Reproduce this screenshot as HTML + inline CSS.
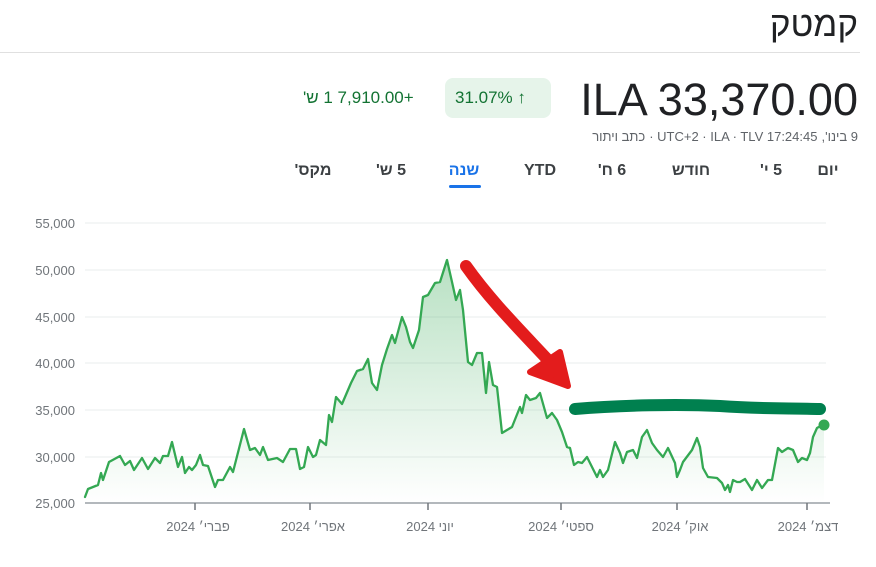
<!DOCTYPE html>
<html><head><meta charset="utf-8"><style>
body{margin:0;width:876px;height:567px;background:#fff;overflow:hidden;font-family:"Liberation Sans",Arial,sans-serif;position:relative}
.a{position:absolute;white-space:nowrap}
.tab{position:absolute;top:162px;font-size:16px;color:#3c4043;font-weight:bold;transform:translateX(-50%)}
</style></head><body>
<div class="a" style="right:18px;top:5px;font-size:35px;color:#202124">קמטק</div>
<div class="a" style="left:0;top:52px;width:860px;height:1px;background:#e0e0e0"></div>
<div class="a" style="right:18px;top:74px;font-size:45px;color:#202124">ILA 33,370.00</div>
<div class="a" style="left:445px;top:78px;width:106px;height:40px;background:#e6f4ea;border-radius:8px"></div>
<div class="a" style="left:455px;top:88px;font-size:17px;color:#137333">31.07% ↑</div>
<div class="a" style="left:303px;top:88px;font-size:17px;color:#137333"><bdo dir="ltr">'ש 1 7,910.00+</bdo></div>
<div class="a" style="right:18px;top:129px;font-size:13px;color:#5f6368;display:flex;gap:4px">
<span>כתב ויתור</span><span>· UTC+2 · ILA · TLV 17:24:45</span><span dir="rtl">9 בינו',</span></div>
<div class="tab" dir="rtl" style="left:828px">יום</div>
<div class="tab" dir="rtl" style="left:771px">5 י'</div>
<div class="tab" dir="rtl" style="left:691px">חודש</div>
<div class="tab" dir="rtl" style="left:612px">6 ח'</div>
<div class="tab" style="left:540px">YTD</div>
<div class="tab" dir="rtl" style="left:464px;color:#1a73e8">שנה</div>
<div class="tab" dir="rtl" style="left:391px">5 ש'</div>
<div class="tab" dir="rtl" style="left:313px">מקס'</div>
<div class="a" style="left:449px;top:185px;width:32px;height:3px;background:#1a73e8;border-radius:2px"></div>
<svg class="a" style="left:0;top:0" width="876" height="567">
<defs><linearGradient id="g" x1="0" y1="0" x2="0" y2="1"><stop offset="0" stop-color="#34a853" stop-opacity=".35"/><stop offset="1" stop-color="#34a853" stop-opacity="0"/></linearGradient></defs>
<g stroke="#f1f3f4" stroke-width="1.5">
<line x1="85" x2="826" y1="223" y2="223"/><line x1="85" x2="826" y1="270" y2="270"/><line x1="85" x2="826" y1="317" y2="317"/><line x1="85" x2="826" y1="363" y2="363"/><line x1="85" x2="826" y1="410" y2="410"/><line x1="85" x2="826" y1="457" y2="457"/></g>
<g font-size="13" fill="#70757a" text-anchor="end">
<text x="75" y="228">55,000</text><text x="75" y="275">50,000</text><text x="75" y="322">45,000</text><text x="75" y="368">40,000</text><text x="75" y="415">35,000</text><text x="75" y="462">30,000</text><text x="75" y="508">25,000</text></g>
<polygon fill="url(#g)" points="85,497 88,489 98,485 101,473 103,480 109,462 120,456 125,465 130,461 134,470 142,458 148,469 155,458 160,463 163,456 168,456 172,442 178,467 182,457 185,473 189,467 192,470 196,465 200,455 203,465 208,466 215,487 218,480 223,480 230,467 233,472 244,429 250,450 255,448 260,455 263,447 268,460 277,458 283,462 290,449 296,449 300,469 304,467 308,447 313,457 316,455 320,440 326,445 329,415 332,422 336,397 342,404 351,383 357,371 363,369 368,359 372,383 377,390 382,365 387,349 392,335 395,343 402,317 406,327 410,342 413,348 419,330 423,297 428,295 435,283 440,282 447,260 452,282 456,300 460,290 463,310 468,362 472,365 477,353 482,353 486,393 489,362 493,385 497,387 502,433 507,430 512,427 520,407 522,413 526,395 530,400 536,398 540,393 547,418 552,413 557,420 562,432 567,447 570,448 574,465 578,462 582,463 587,457 592,467 597,477 600,470 603,477 608,470 615,442 620,453 623,463 627,452 633,450 637,458 642,437 647,430 652,443 657,450 663,457 668,448 675,463 677,477 680,470 683,462 692,450 697,438 700,447 703,468 708,477 717,478 722,483 725,490 728,485 730,492 733,480 737,482 740,482 745,479 752,490 757,480 762,488 768,480 772,480 778,448 782,452 788,448 793,450 798,462 802,458 807,460 810,453 813,437 817,428 824,424 824,503 85,503"/>
<polyline fill="none" stroke="#34a853" stroke-width="2.3" stroke-linejoin="round" stroke-linecap="round" points="85,497 88,489 98,485 101,473 103,480 109,462 120,456 125,465 130,461 134,470 142,458 148,469 155,458 160,463 163,456 168,456 172,442 178,467 182,457 185,473 189,467 192,470 196,465 200,455 203,465 208,466 215,487 218,480 223,480 230,467 233,472 244,429 250,450 255,448 260,455 263,447 268,460 277,458 283,462 290,449 296,449 300,469 304,467 308,447 313,457 316,455 320,440 326,445 329,415 332,422 336,397 342,404 351,383 357,371 363,369 368,359 372,383 377,390 382,365 387,349 392,335 395,343 402,317 406,327 410,342 413,348 419,330 423,297 428,295 435,283 440,282 447,260 452,282 456,300 460,290 463,310 468,362 472,365 477,353 482,353 486,393 489,362 493,385 497,387 502,433 507,430 512,427 520,407 522,413 526,395 530,400 536,398 540,393 547,418 552,413 557,420 562,432 567,447 570,448 574,465 578,462 582,463 587,457 592,467 597,477 600,470 603,477 608,470 615,442 620,453 623,463 627,452 633,450 637,458 642,437 647,430 652,443 657,450 663,457 668,448 675,463 677,477 680,470 683,462 692,450 697,438 700,447 703,468 708,477 717,478 722,483 725,490 728,485 730,492 733,480 737,482 740,482 745,479 752,490 757,480 762,488 768,480 772,480 778,448 782,452 788,448 793,450 798,462 802,458 807,460 810,453 813,437 817,428 824,424"/>
<circle cx="824" cy="425" r="5.5" fill="#34a853"/>
<line x1="85" x2="830" y1="503" y2="503" stroke="#9aa0a6" stroke-width="1.5"/>
<g stroke="#70757a" stroke-width="1.5"><line x1="195" x2="195" y1="503" y2="510"/><line x1="310" x2="310" y1="503" y2="510"/><line x1="428" x2="428" y1="503" y2="510"/><line x1="561" x2="561" y1="503" y2="510"/><line x1="677" x2="677" y1="503" y2="510"/><line x1="807" x2="807" y1="503" y2="510"/></g>
<g font-size="13" fill="#70757a" text-anchor="middle">
<text x="198" y="531">פברי׳ 2024</text><text x="313" y="531">אפרי׳ 2024</text><text x="430" y="531">יוני 2024</text><text x="561" y="531">ספטי׳ 2024</text><text x="680" y="531">אוק׳ 2024</text><text x="808" y="531">דצמ׳ 2024</text></g>
<path d="M466,266 C490,300 520,330 548,360" fill="none" stroke="#e31c1c" stroke-width="12" stroke-linecap="round"/>
<polygon points="530,372 560,352 568,386" fill="#e31c1c" stroke="#e31c1c" stroke-width="6" stroke-linejoin="round"/>
<path d="M575,409 C620,405 680,404 720,406 C760,409 790,408 820,409" fill="none" stroke="#00804f" stroke-width="12" stroke-linecap="round"/>
</svg>
</body></html>
